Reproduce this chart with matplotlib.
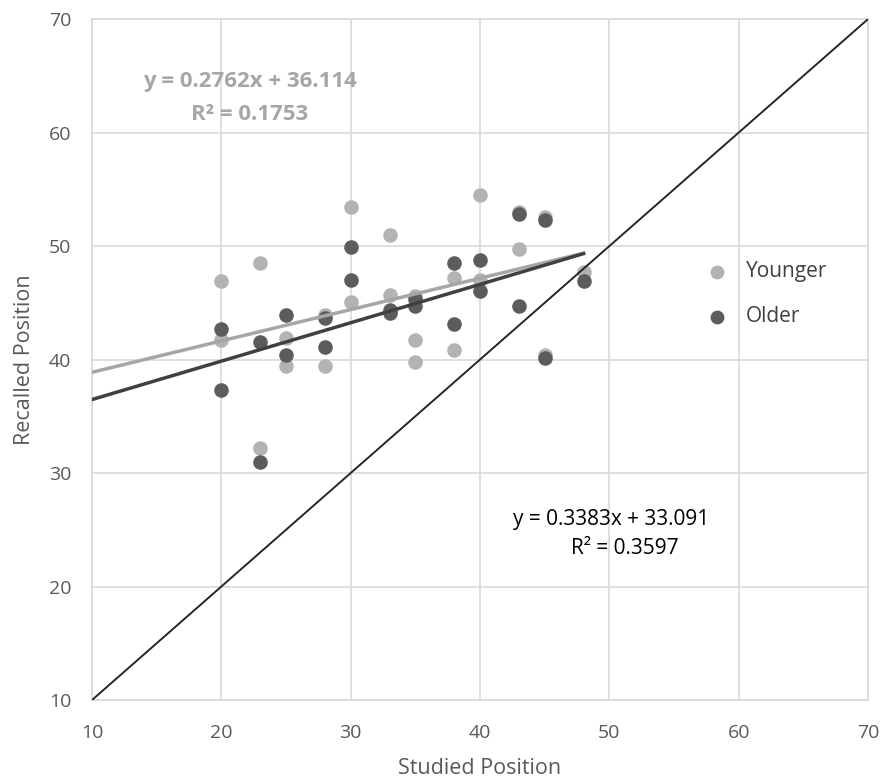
import matplotlib.pyplot as plt
import numpy as np

plt.rcParams['font.family'] = ['Open Sans', 'DejaVu Sans']

# studied position vs recalled position
young_x = [20, 20, 23, 23, 25, 25, 28, 28, 30, 30, 33, 33, 35, 35, 35,
           38, 38, 40, 40, 43, 43, 45, 45, 48]
young_y = [46.9, 41.7, 48.5, 32.2, 41.9, 39.4, 43.9, 39.4, 53.4, 45.1, 51.0, 45.7, 45.6, 41.7, 39.8,
           47.2, 40.8, 54.5, 47.0, 53.0, 49.7, 52.6, 40.4, 47.7]
older_x = [20, 20, 23, 23, 25, 25, 28, 28, 30, 30, 33, 33, 35, 35,
           38, 38, 40, 40, 43, 43, 45, 45, 48]
older_y = [42.7, 37.3, 41.5, 31.0, 43.9, 40.4, 43.7, 41.1, 49.9, 47.0, 44.4, 44.1, 45.3, 44.7,
           48.5, 43.1, 48.8, 46.0, 52.8, 44.7, 52.3, 40.1, 46.9]

# trendline coefficients as printed on the chart (slope, intercept, r2)
young_fit = (0.2762, 36.114, 0.1753)
older_fit = (0.3383, 33.091, 0.3597)

c_young = '#b3b3b3'
c_older = '#5c5c5c'

fig = plt.figure(figsize=(8.89, 7.83), dpi=100)
ax = fig.add_axes([0.1035, 0.106, 0.873, 0.8697])

ax.set_xlim(10, 70)
ax.set_ylim(10, 70)
ax.set_xticks(np.arange(10, 71, 10))
ax.set_yticks(np.arange(10, 71, 10))
ax.grid(True, color='#d9d9d9', linewidth=1.2)
ax.set_axisbelow(True)
for s in ax.spines.values():
    s.set_color('#d9d9d9')
    s.set_linewidth(1.2)
ax.tick_params(length=0, labelsize=14, labelcolor='#595959')
ax.tick_params(axis='x', pad=17)
ax.tick_params(axis='y', pad=15)

ax.scatter(young_x, young_y, s=110, color=c_young, zorder=3, label='Younger', linewidths=0)
ax.scatter(older_x, older_y, s=110, color=c_older, zorder=3, label='Older', linewidths=0)

# trendlines
xs = np.array([10, 48])
ax.plot(xs, young_fit[0] * xs + young_fit[1], color='#a6a6a6', lw=2.5, zorder=4)
ax.plot(xs, older_fit[0] * xs + older_fit[1], color='#404040', lw=2.5, zorder=4)

# identity line
ax.plot([10, 70], [10, 70], color='#262626', lw=1.4, zorder=4)

fig.text(250 / 889, 1 - 82 / 783, 'y = %.4fx + %.3f' % young_fit[:2], ha='center', va='center',
         fontsize=16, fontweight='bold', color='#a6a6a6')
fig.text(250 / 889, 1 - 114 / 783, 'R² = %.4f' % young_fit[2], ha='center', va='center',
         fontsize=16, fontweight='bold', color='#a6a6a6')
fig.text(611 / 889, 1 - 519 / 783, 'y = %.4fx + %.3f' % older_fit[:2], ha='center', va='center',
         fontsize=15, color='#000000')
fig.text(625 / 889, 1 - 549 / 783, 'R² = %.4f' % older_fit[2], ha='center', va='center',
         fontsize=15, color='#000000')

ax.set_xlabel('Studied Position', fontsize=15.5, color='#595959', labelpad=12)
ax.set_ylabel('Recalled Position', fontsize=15.5, color='#595959', labelpad=10)

ax.legend(loc='center left', bbox_to_anchor=(677 / 889, 1 - 294 / 783), bbox_transform=fig.transFigure,
          frameon=False, fontsize=15, handletextpad=0.4, labelspacing=1.15, markerscale=0.95,
          labelcolor='#404040')

fig.savefig('out.png', dpi=100)
